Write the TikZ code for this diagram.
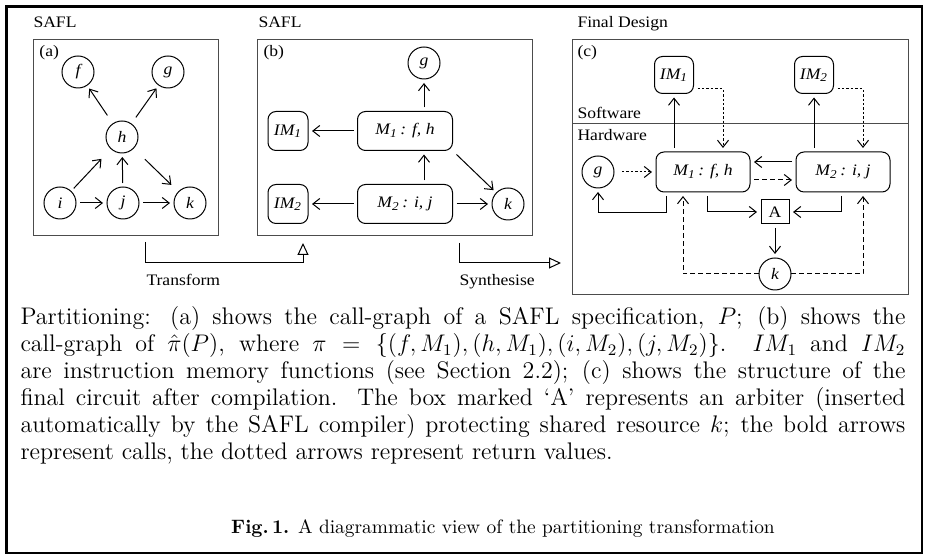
\documentclass[tikz,border=0pt]{standalone}
\usepackage{fontspec}
\usetikzlibrary{arrows.meta}
\newfontfamily\diagfont[FakeStretch=1.1]{Liberation Serif}
\newcommand{\dsz}{\fontsize{8}{9.5}\selectfont}

\tikzstyle{cN}=[circle,minimum size=16pt,inner sep=0pt,outer sep=2pt,draw,font=\diagfont\itshape\dsz]
\tikzstyle{bN}=[rectangle,rounded corners=4pt,inner sep=0pt,outer sep=2pt,draw,font=\diagfont\itshape\dsz]
\tikzstyle{aN}=[rectangle,minimum width=14pt,minimum height=12pt,inner sep=0pt,outer sep=2pt,draw,font=\diagfont\dsz]
\tikzstyle{pN}=[rectangle,draw=black!70,inner sep=0pt,outer sep=0pt]
\tikzstyle{tN}=[inner sep=0pt,anchor=base west,font=\diagfont\dsz]
\tikzstyle{eS}=[-{Straight Barb[length=3.5pt,width=5.5pt]}]
\tikzstyle{eD}=[eS,dash pattern=on 1.2pt off 1pt]
\tikzstyle{eDa}=[eS,dash pattern=on 2.4pt off 1.6pt]
\tikzstyle{eT}=[-{Triangle[open,length=6pt,width=5.5pt]}]

\begin{document}
\begin{tikzpicture}[x=0.5pt,y=-0.5pt,line width=0.5pt]
        \useasboundingbox (0,0) rectangle (927,560);
        \draw[line width=1.3pt] (6.5,6.5) rectangle (922,553);
        % panels
        \draw (125.5,138) node[pN,minimum width=92.5pt,minimum height=98pt] (pa) {};
        \draw (394.5,138) node[pN,minimum width=137.5pt,minimum height=98pt] (pb) {};
        \draw (740,167.5) node[pN,minimum width=168pt,minimum height=127.5pt] (pc) {};
        \draw[draw=black!70] (572,124) -- (908,124);
        \draw (33,28) node[tN] (la) {SAFL};
        \draw (258,28) node[tN] (lb) {SAFL};
        \draw (577,28) node[tN] (lc) {Final Design};
        \draw (39,57) node[tN] (ta) {(a)};
        \draw (263,57) node[tN] (tb) {(b)};
        \draw (577,57) node[tN] (tc) {(c)};
        \draw (577,119) node[tN] (sw) {Software};
        \draw (577,141) node[tN] (hw) {Hardware};
        \draw (146,286) node[tN] (tr) {Transform};
        \draw (459,286) node[tN] (sy) {Synthesise};

        % (a)
        \draw (78,72) node[cN] (fa) {f};
        \draw (168,72) node[cN] (ga) {g};
        \draw (122,137) node[cN] (ha) {h};
        \draw (60,203) node[cN] (ia) {i};
        \draw (123,203) node[cN] (ja) {j};
        \draw (190,203) node[cN] (ka) {k};
        \path
            (ha) edge[eS,shorten <=3pt] (fa)
            (ha) edge[eS,shorten <=2pt] (ga)
            (ia) edge[eS,shorten >=5pt] (ha)
            (ja) edge[eS] (ha)
            (ha) edge[eS,shorten <=6pt,shorten >=3pt] (ka)
            (ia) edge[eS] (ja)
            (ja) edge[eS] (ka)
        ;

        % (b)
        \draw (424,63) node[cN] (gb) {g};
        \draw (288,131) node[bN,minimum width=20pt,minimum height=19.5pt] (imb1) {IM\textsubscript{1}};
        \draw (405,131) node[bN,minimum width=47.5pt,minimum height=19.5pt] (mb1) {M\textsubscript{1}\,: f, h};
        \draw (288,204) node[bN,minimum width=20pt,minimum height=19.5pt] (imb2) {IM\textsubscript{2}};
        \draw (405,204) node[bN,minimum width=47.5pt,minimum height=19.5pt] (mb2) {M\textsubscript{2}\,: i, j};
        \draw (508,204) node[cN] (kb) {k};
        \draw[eS] (gb.south |- mb1.north) -- (gb.south);
        \draw[eS] (gb.south |- mb2.north) -- (gb.south |- mb1.south);
        \path
            (mb1) edge[eS] (imb1)
            (mb2) edge[eS] (imb2)
            (mb2) edge[eS] (kb)
            (mb1.south east) edge[eS] (kb)
        ;

        % (c)
        \draw (674,75) node[bN,minimum width=19.5pt,minimum height=18.5pt] (imc1) {IM\textsubscript{1}};
        \draw (814,75) node[bN,minimum width=19.5pt,minimum height=18.5pt] (imc2) {IM\textsubscript{2}};
        \draw (703,172) node[bN,minimum width=47pt,minimum height=20pt] (mc1) {M\textsubscript{1}\,: f, h};
        \draw (843,172) node[bN,minimum width=47pt,minimum height=20pt] (mc2) {M\textsubscript{2}\,: i, j};
        \draw (598,172) node[cN] (gc) {g};
        \draw (775,212) node[aN] (ac) {A};
        \draw (775,274) node[cN] (kc) {k};
        \draw[eS] (imc1.south |- mc1.north) -- (imc1.south);
        \draw[eS] (imc2.south |- mc2.north) -- (imc2.south);
        \draw[eD] ([yshift=-7pt]imc1.east) -| ([xshift=10pt]mc1.north);
        \draw[eD] ([yshift=-7pt]imc2.east) -| ([xshift=10pt]mc2.north);
        \draw[eD,shorten <=2pt] (gc) -- (mc1);
        \draw[eS] ([yshift=5pt]mc2.west) -- ([yshift=5pt]mc1.east);
        \draw[eDa] ([yshift=-4pt]mc1.east) -- ([yshift=-4pt]mc2.west);
        \draw[eS] ([xshift=-18.5pt]mc1.south) -- ++(0,17) -| (gc.south);
        \draw[eS] ([xshift=2pt]mc1.south) |- (ac.west);
        \draw[eS] ([xshift=-1pt]mc2.south) |- (ac.east);
        \draw[eS] (ac) -- (kc);
        \draw[eDa,shorten <=-2pt] (kc.west) -| ([xshift=-10pt]mc1.south);
        \draw[eDa,shorten <=-2pt] (kc.east) -| ([xshift=10pt]mc2.south);

        % transform / synthesise
        \coordinate (synE) at (561,263);
        \draw[eT] ([xshift=9.75pt,yshift=-3pt]pa.south) -- ++(0,21) -| ([xshift=-45.75pt,yshift=-3.5pt]pb.south);
        \draw[eT] ([xshift=32.25pt,yshift=-3.5pt]pb.south) |- (synE);

        % caption
        \draw (20,306) node[anchor=north west,text width=442.5pt,align=justify,inner sep=0pt,font=\fontsize{12}{13.5}\selectfont] (cap) {Partitioning: (a) shows the call-graph of a SAFL specification, $P$; (b) shows the\linebreak{} call-graph of $\hat{\pi}(P)$, where $\pi = \{(f,M_1),(h,M_1),(i,M_2),(j,M_2)\}$. $IM_1$ and $IM_2$\linebreak{} are instruction memory functions (see Section 2.2); (c) shows the structure of the\linebreak{} final circuit after compilation. The box marked `A' represents an arbiter (inserted\linebreak{} automatically by the SAFL compiler) protecting shared resource $k$; the bold arrows\linebreak{} represent calls, the dotted arrows represent return values.};
        \draw (503,529) node[inner sep=0pt,font=\fontsize{9.7}{13.5}\selectfont] (fig) {\textbf{Fig.\,1.} A diagrammatic view of the partitioning transformation};
\end{tikzpicture}
\end{document}
